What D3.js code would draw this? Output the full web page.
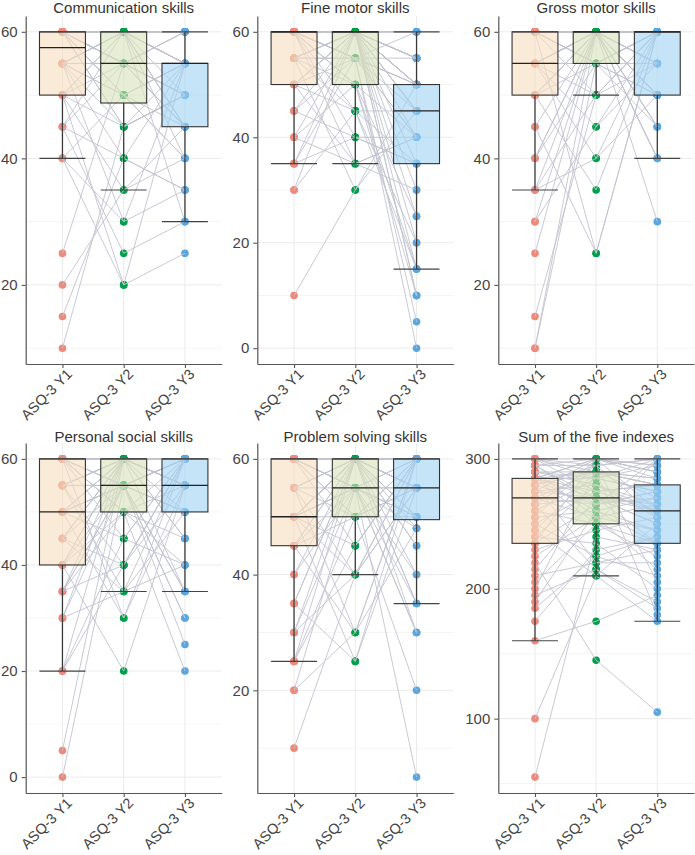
<!DOCTYPE html>
<html><head><meta charset="utf-8">
<script src="https://cdn.jsdelivr.net/npm/d3@7"></script>
<style>body{margin:0;background:#fff} text{font-family:"Liberation Sans",Arial,Helvetica,sans-serif}</style>
</head><body><svg id="c" width="695" height="855"></svg>
<script>
const categories = ["ASQ-3 Y1", "ASQ-3 Y2", "ASQ-3 Y3"];
const panelTitles = ["Communication skills", "Fine motor skills", "Gross motor skills",
  "Personal social skills", "Problem solving skills", "Sum of the five indexes"];

// each array: one value per child, same child order in Y1/Y2/Y3
const commY1 = [10,15,20,25,40,40,40,45,45,45, 45,50,50,50,50,50,50,55,55,55, 55,55,55,55,55,55,55,55,55,55,
  60,60,60,60,60,60,60,60,60,60, 60,60,60,60,60,60,60,60,60,60, 60,60,60,60,60,60,60,60,60,60];
const commY2 = [45,40,35,55,20,50,30,60,25,55, 40,60,45,55,20,60,35,50,60,30, 55,60,45,60,55,40,60,50,55,60,
  60,55,45,60,60,55,50,60,60,55, 60,45,60,55,60,50,60,55,60,60, 55,60,50,60,55,60,60,55,60,60];
const commY3 = [50,55,45,60,25,40,55,45,30,55, 35,55,50,45,55,60,40,55,55,35, 55,60,50,55,45,35,55,40,55,60,
  60,45,55,50,55,60,55,30,55,50, 55,50,60,55,45,55,40,60,55,45, 55,60,45,55,50,60,55,50,60,60];

const fineY1 = [10,30,30,35,35,35,40,40,40,45, 45,45,50,50,50,50,50,50,55,55, 55,55,55,55,55,55,55,60,60,60,
  60,60,60,60,60,60,60,60,60,60, 60,60,60,60,60,60,60,60,60,60, 60,60,60,60,60,60,60,60,60,60];
const fineY2 = [30,60,45,55,40,60,35,50,60,55, 60,40,55,60,45,60,35,60,50,60, 55,60,30,60,45,60,55,60,40,60,
  60,50,60,55,60,35,60,45,60,55, 60,55,60,50,60,60,55,60,60,60, 60,60,60,50,60,60,55,60,60,60];
const fineY3 = [45,50,35,60,40,55,30,50,45,40, 50,35,55,10,45,50,40,60,15,50, 40,55,50,45,20,50,0,55,35,50,
  60,10,45,50,25,40,55,15,50,45, 50,5,55,40,60,30,50,45,10,55, 35,50,60,25,55,15,50,40,60,20];

const grossY1 = [10,10,15,25,30,30,35,35,35,40, 40,40,45,45,50,50,50,50,50,50, 55,55,55,55,55,55,55,55,55,55,
  55,55,60,60,60,60,60,60,60,60, 60,60,60,60,60,60,60,60,60,60, 60,60,60,60,60,60,60,60,60,60];
const grossY2 = [55,60,50,60,45,60,60,50,40,60, 60,55,60,25,60,60,55,60,35,60, 60,60,55,60,45,60,50,60,60,55,
  60,40,60,60,55,60,60,25,60,60, 55,60,60,50,60,60,60,55,60,60, 60,60,55,60,60,60,60,60,60,60];
const grossY3 = [60,50,60,45,55,60,40,60,50,60, 55,60,60,60,50,60,45,60,60,40, 60,50,60,55,60,60,60,30,60,55,
  60,60,45,60,50,60,55,60,60,60, 50,60,60,55,60,40,60,60,50,60, 60,55,60,60,45,60,50,60,55,60];

const persY1 = [0,5,20,20,20,30,30,30,35,35, 35,35,35,40,40,40,40,40,45,45, 45,45,45,45,50,50,50,50,50,50,
  50,50,50,55,55,55,55,55,55,55, 55,55,60,60,60,60,60,60,60,60, 60,60,60,60,60,60,60,60,60,60];
const persY2 = [55,60,45,60,40,55,35,60,50,55, 60,40,55,60,20,55,60,50,35,60, 55,60,40,60,55,45,60,30,55,60,
  60,50,55,60,35,55,60,40,60,55, 60,55,50,60,45,60,55,60,30,60, 55,60,60,50,60,55,60,60,50,60];
const persY3 = [60,55,40,55,60,30,50,60,45,60, 55,60,35,60,55,50,60,20,60,55, 60,45,60,55,35,60,55,60,25,60,
  55,60,50,60,40,55,60,55,60,30, 60,50,55,60,60,45,60,35,55,60, 60,55,60,40,50,60,55,60,50,60];

const probY1 = [10,20,20,25,25,25,30,30,30,35, 35,35,40,40,45,45,45,45,45,50, 50,50,50,50,50,50,50,50,50,50,
  50,50,55,55,55,55,55,55,55,60, 60,60,60,60,60,60,60,60,60,60, 60,60,60,60,60,60,60,60,60,60];
const probY2 = [40,55,30,60,45,50,60,40,55,60, 60,25,55,60,50,60,30,55,60,40, 55,60,60,45,55,60,50,60,25,60,
  60,55,40,60,55,60,60,50,30,55, 55,60,60,50,60,45,60,55,60,60, 60,55,50,60,60,55,60,60,60,60];
const probY3 = [55,30,60,48,60,50,35,55,60,45, 60,55,50,60,20,60,48,55,30,60, 50,60,55,60,35,60,55,40,60,50,
  60,48,60,55,5,60,50,55,60,30, 55,60,45,60,55,60,35,60,50,60, 60,50,60,55,60,40,55,60,55,60];

const sumY1 = [55,100,160,175,185,190,195,200,205,210, 215,220,225,230,235,235,240,240,245,245,
  250,250,255,255,260,260,265,265,265,270, 270,270,275,275,275,280,280,280,280,285,
  285,285,285,285,285,285,285,290,290,290, 290,295,295,295,295,300,300,300,300,300];
const sumY2 = [240,210,175,230,225,260,215,290,250,220, 270,145,255,245,265,300,235,280,210,290,
  225,275,260,300,250,285,270,295,215,265, 290,255,300,280,270,290,220,265,295,285,
  300,260,275,290,250,270,300,285,255,290, 280,295,265,300,270,275,300,285,290,295];
const sumY3 = [230,250,195,240,210,270,185,280,235,220, 260,105,245,255,275,290,200,265,175,280,
  240,260,235,285,225,275,250,300,190,270, 280,215,295,260,265,285,230,300,255,275,
  290,245,280,270,300,235,260,295,265,285, 255,300,275,290,250,280,295,300,180,205];

const majorTicks = [[20,40,60],[0,20,40,60],[20,40,60],[0,20,40,60],[20,40,60],[100,200,300]];
const minorTicks = [[10,30,50],[10,30,50],[10,30,50],[10,30,50],[10,30,50],[50,150,250]];

const pointColors = ["#EE8A7C", "#00A04A", "#5AA6DF"];
const boxFills = ["#F7DEC0", "#D9E3BB", "#9ED2F3"];

const series = [
  [commY1, commY2, commY3], [fineY1, fineY2, fineY3], [grossY1, grossY2, grossY3],
  [persY1, persY2, persY3], [probY1, probY2, probY3], [sumY1, sumY2, sumY3]
];

const cols = [[25.7, 221.7], [257.3, 453.3], [498.3, 694]];
const rows = [[364, 16], [793, 443]];
const titleBase = [13, 442];

const svg = d3.select("#c");

function stats(v) {
  const s = v.slice().sort(d3.ascending);
  const q1 = d3.quantile(s, 0.25), med = d3.quantile(s, 0.5), q3 = d3.quantile(s, 0.75);
  const iqr = q3 - q1;
  const lo = d3.min(s.filter(d => d >= q1 - 1.5 * iqr));
  const hi = d3.max(s.filter(d => d <= q3 + 1.5 * iqr));
  return {q1, med, q3, lo, hi};
}

series.forEach((ser, pi) => {
  const col = cols[pi % 3], row = rows[Math.floor(pi / 3)];
  const all = ser[0].concat(ser[1], ser[2]);
  const [mn, mx] = d3.extent(all);
  const pad = (mx - mn) * 0.05;
  const y = d3.scaleLinear().domain([mn - pad, mx + pad]).range(row);
  const x = d3.scalePoint().domain(categories).range(col).padding(0.6);
  const bw = x.step() * 0.75;
  const g = svg.append("g");

  // grid
  g.selectAll(".mn").data(minorTicks[pi]).join("line")
    .attr("x1", col[0]).attr("x2", col[1]).attr("y1", d => y(d)).attr("y2", d => y(d))
    .attr("stroke", "#F2F2F2").attr("stroke-width", 0.8);
  g.selectAll(".mj").data(majorTicks[pi]).join("line")
    .attr("x1", col[0]).attr("x2", col[1]).attr("y1", d => y(d)).attr("y2", d => y(d))
    .attr("stroke", "#EBEBEB").attr("stroke-width", 1);
  g.selectAll(".vg").data(categories).join("line")
    .attr("x1", d => x(d)).attr("x2", d => x(d)).attr("y1", row[0]).attr("y2", row[1])
    .attr("stroke", "#EBEBEB").attr("stroke-width", 1);

  // points
  ser.forEach((vals, ci) => {
    g.append("g").selectAll("circle").data(vals).join("circle")
      .attr("cx", x(categories[ci])).attr("cy", d => y(d)).attr("r", 3.8)
      .attr("fill", pointColors[ci]);
  });

  // paired lines
  const n = ser[0].length;
  const idx = d3.range(n);
  const lineGen = d3.line().x(d => d[0]).y(d => d[1]);
  g.append("g").selectAll("path").data(idx).join("path")
    .attr("d", i => lineGen(categories.map((c, ci) => [x(c), y(ser[ci][i])])))
    .attr("fill", "none").attr("stroke", "#C2C3CF").attr("stroke-width", 0.9);

  // boxes
  ser.forEach((vals, ci) => {
    const st = stats(vals);
    const cx = x(categories[ci]);
    const bg = g.append("g");
    bg.append("line").attr("x1", cx).attr("x2", cx).attr("y1", y(st.q1)).attr("y2", y(st.lo))
      .attr("stroke", "#3a3a3a").attr("stroke-width", 1.3);
    bg.append("line").attr("x1", cx).attr("x2", cx).attr("y1", y(st.q3)).attr("y2", y(st.hi))
      .attr("stroke", "#3a3a3a").attr("stroke-width", 1.3);
    bg.append("rect").attr("x", cx - bw / 2).attr("width", bw)
      .attr("y", y(st.q3)).attr("height", Math.max(0, y(st.q1) - y(st.q3)))
      .attr("fill", boxFills[ci]).attr("fill-opacity", 0.6)
      .attr("stroke", "#333").attr("stroke-width", 1.1);
    [st.lo, st.hi].forEach(v => bg.append("line")
      .attr("x1", cx - bw / 2).attr("x2", cx + bw / 2).attr("y1", y(v)).attr("y2", y(v))
      .attr("stroke", "#444").attr("stroke-width", 1.2));
    bg.append("line").attr("x1", cx - bw / 2).attr("x2", cx + bw / 2)
      .attr("y1", y(st.med)).attr("y2", y(st.med))
      .attr("stroke", "#222").attr("stroke-width", 1.3);
  });

  // axes
  const ya = g.append("g").attr("transform", `translate(${col[0]},0)`)
    .call(d3.axisLeft(y).tickValues(majorTicks[pi]).tickSize(4).tickSizeOuter(0).tickPadding(4));
  const xa = g.append("g").attr("transform", `translate(0,${row[0]})`)
    .call(d3.axisBottom(x).tickSize(4).tickSizeOuter(0));
  [ya, xa].forEach(a => {
    a.select(".domain").attr("stroke", "#555").attr("stroke-width", 1.2);
    a.selectAll(".tick line").attr("stroke", "#555").attr("stroke-width", 1.1);
    a.selectAll("text").attr("fill", "#444").style("font-size", "15px")
      .style("font-family", '"Liberation Sans",Arial,sans-serif');
  });
  xa.selectAll("text").attr("text-anchor", "end").attr("dy", null).attr("y", null)
    .style("font-size", "14.5px")
    .attr("transform", "translate(10,11) rotate(-45)");

  // title
  g.append("text").attr("x", (col[0] + col[1]) / 2).attr("y", titleBase[Math.floor(pi / 3)])
    .attr("text-anchor", "middle").attr("fill", "#333").style("font-size", "15px")
    .text(panelTitles[pi]);
});
</script></body></html>
